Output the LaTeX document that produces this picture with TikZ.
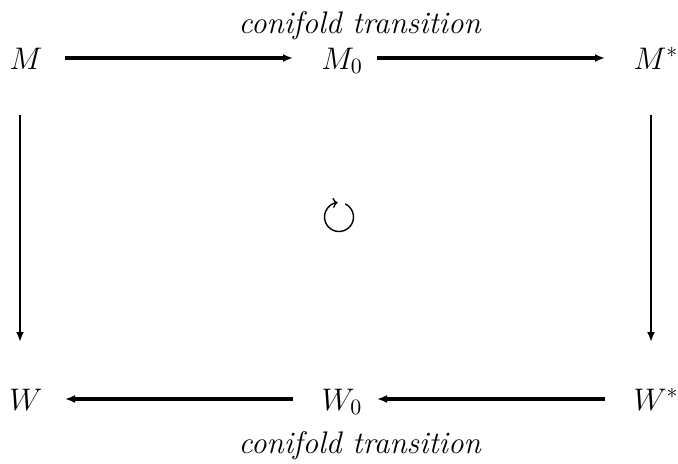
\documentclass[tikz,border=0pt]{standalone}
\usepackage{fix-cm}
\usetikzlibrary{arrows.meta,calc}
\begin{document}
\begin{tikzpicture}[x=1pt,y=1pt,
  lbl/.style={inner sep=0pt,anchor=base,font=\fontsize{15.6}{18}\selectfont},
  harrow/.style={line width=1.75pt,-{Latex[length=5pt,width=4pt]}},
  varrow/.style={line width=1.25pt,-{Latex[length=5pt,width=4pt]}},
  cycarrow/.style={line width=0.7pt,-{To[length=2.5pt,width=5pt]}}]
\useasboundingbox (0,0) rectangle (339,231.5);
\node[lbl] (M)  at (13,197)  {$M$};
\node[lbl] (M0) at (171,197) {$M_0$};
\node[lbl] (Ms) at (328,197) {$M^*$};
\node[lbl] (W)  at (13,26.5)  {$W$};
\node[lbl] (W0) at (171,26.5) {$W_0$};
\node[lbl] (Ws) at (328,26.5) {$W^*$};
\node[lbl] (tl) at (180,215) {\textit{conifold transition}};
\node[lbl] (bl) at (180,5) {\textit{conifold transition}};
\coordinate (C) at (169.5,123);
\draw[harrow] ($(M.base)+(19.5,5.5)$) -- ($(M0.base)+(-24.5,5.5)$);
\draw[harrow] ($(M0.base)+(17.5,5.5)$) -- ($(Ms.base)+(-25.5,5.5)$);
\draw[harrow] ($(W0.base)+(-24.5,5.5)$) -- ($(W.base)+(19.5,5.5)$);
\draw[harrow] ($(Ws.base)+(-25.5,5.5)$) -- ($(W0.base)+(17.5,5.5)$);
\draw[varrow] ($(M.base)+(-3,-23)$) -- ($(W.base)+(-3,34)$);
\draw[varrow] ($(Ms.base)+(-2.5,-23)$) -- ($(Ws.base)+(-2.5,34)$);
\draw[cycarrow] ($(C)+(65:7.25)$) arc[start angle=65,end angle=-265,radius=7.25];
\end{tikzpicture}
\end{document}
